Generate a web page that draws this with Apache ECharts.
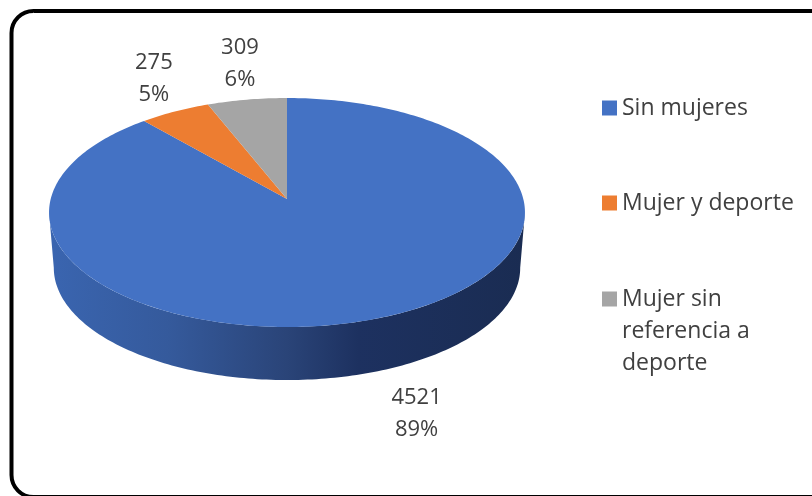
<!DOCTYPE html>
<html><head><meta charset="utf-8">
<style>html,body{margin:0;padding:0;background:#fff}#c{width:812px;height:496px}</style>
<script src="https://cdn.jsdelivr.net/npm/echarts@6/dist/echarts.min.js"></script>
</head><body><div id="c"></div>
<script>
const categories = ['Sin mujeres', 'Mujer y deporte', 'Mujer sin\nreferencia a\ndeporte'];
const values = [4521, 275, 309];
const percents = ['89%', '5%', '6%'];
const colors = ['#4472c4', '#ed7d31', '#a5a5a5'];
const labelOffsets = [[38, 43], [-21, -33], [-7, -36]];

const total = values.reduce((a, b) => a + b, 0);
const cx = 287, cy = 199, A = 236.3, B = 112.9, K = 0.118, depth = 55.6, bottomScale = 0.98;
const project = (deg, s = 1, dy = 0) => {
  const t = deg * Math.PI / 180, w = 1 + K * Math.cos(t);
  return [cx + s * A * Math.sin(t) / w, cy + dy - s * B * Math.cos(t) / w];
};
const arc = (from, to, s, dy) => {
  const pts = [], n = Math.max(8, Math.ceil(Math.abs(to - from)));
  for (let i = 0; i <= n; i++) pts.push(project(from + (to - from) * i / n, s, dy));
  return pts;
};
const starts = values.map((_, i) => values.slice(0, i).reduce((a, b) => a + b, 0) / total * 360);

const makeRender = idx => (params, api) => {
  const from = starts[idx], to = from + api.value(0) / total * 360, mid = (from + to) / 2;
  const children = [];
  const ext = Math.acos(-K) * 180 / Math.PI;
  if (idx === 0) {
    children.push({
      type: 'polygon',
      shape: { points: arc(ext, 360 - ext, 1, 0).concat(arc(360 - ext, ext, bottomScale, depth)) },
      style: { fill: new echarts.graphic.LinearGradient(0, 0, 1, 0, [
        { offset: 0, color: '#3a65b0' }, { offset: 0.25, color: '#355a9c' },
        { offset: 0.5, color: '#2a4478' }, { offset: 0.65, color: '#1d3160' },
        { offset: 1, color: '#1a2c52' }]) }
    });
  }
  children.push({
    type: 'polygon',
    shape: { points: [[cx, cy]].concat(arc(from, to, 1, 0)) },
    style: { fill: colors[idx] }
  });
  const anchor = idx === 0 ? project(mid, bottomScale, depth) : project(mid);
  children.push({
    type: 'text',
    style: {
      x: anchor[0] + labelOffsets[idx][0], y: anchor[1] + labelOffsets[idx][1],
      text: api.value(0) + '\n' + percents[idx],
      align: 'center', verticalAlign: 'middle', lineHeight: 32,
      fontSize: 22, fontFamily: 'Open Sans', fill: '#404040'
    }
  });
  return { type: 'group', children };
};

const legendText = { fontSize: 23, fontFamily: 'Open Sans', color: '#404040', lineHeight: 32 };
const chart = echarts.init(document.getElementById('c'), null, { renderer: 'canvas' });
chart.setOption({
  animation: false,
  backgroundColor: '#fff',
  legend: [
    { data: [categories[0], categories[1]], orient: 'vertical', left: 602, top: 92, padding: 0, itemWidth: 15, itemHeight: 15,
      itemGap: 63, icon: 'rect', textStyle: legendText, selectedMode: false },
    { data: [{ name: categories[2], icon: 'path://M0,0H15V15H0Z M0,79L0,79' }], orient: 'vertical', left: 602, top: 283, padding: 0,
      itemWidth: 15, itemHeight: 79, textStyle: legendText, selectedMode: false }
  ],
  graphic: [{
    type: 'rect', silent: true, z: -1,
    shape: { x: 11.5, y: 11, width: 830, height: 486, r: 22 },
    style: { fill: '#fff', stroke: '#000', lineWidth: 4 }
  }],
  series: categories.map((name, i) => ({
    type: 'custom', name, coordinateSystem: 'none', silent: true,
    itemStyle: { color: colors[i] },
    renderItem: makeRender(i),
    data: [[values[i]]]
  }))
});
</script></body></html>
